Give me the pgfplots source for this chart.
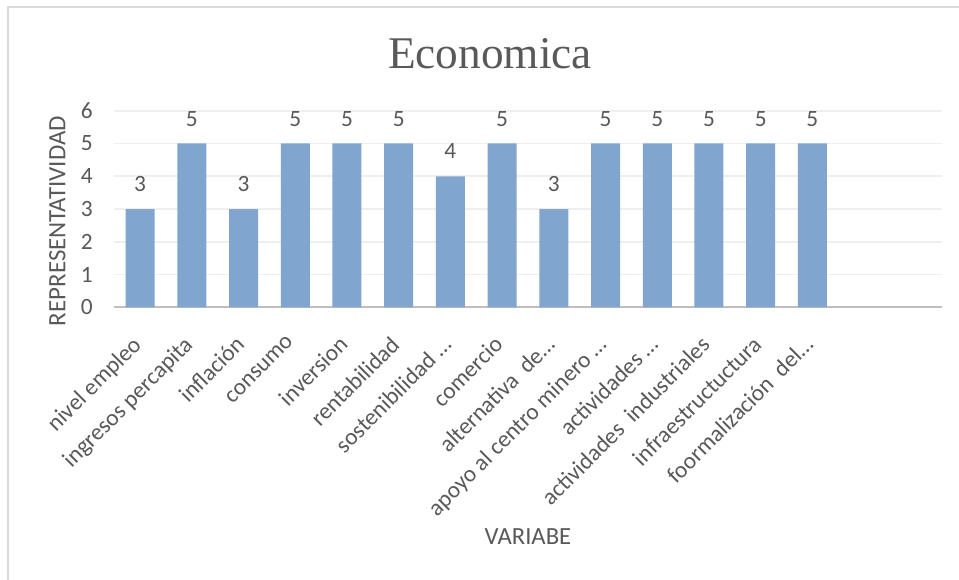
\documentclass[border=0pt]{standalone}
\usepackage{fontspec}
\setmainfont{Carlito}
\newfontfamily\titlefont{Liberation Serif}
\usepackage{pgfplots}
\pgfplotsset{compat=1.18}
\definecolor{txt}{HTML}{595959}
\definecolor{barc}{RGB}{128,166,208}
\definecolor{gridc}{HTML}{EFEFEF}
\definecolor{axc}{HTML}{BFBFBF}
\definecolor{framec}{HTML}{D9D9D9}
\begin{document}
\begin{tikzpicture}
\fill[white] (0,0) rectangle (719.25pt,435pt);
\useasboundingbox (0,0) rectangle (719.25pt,435pt);
\draw[framec,line width=1.2pt] (6pt,0pt) -- (6pt,429.75pt) -- (719.25pt,429.75pt);
\begin{axis}[
  at={(85.7pt,204.5pt)}, anchor=south west,
  scale only axis, width=620.55pt, height=147.45pt,
  ybar, bar width=21.75pt,
  xmin=-0.5, xmax=15.5, ymin=0, ymax=6,
  ytick={0,1,2,3,4,5,6},
  xtick={0,...,13},
  xticklabels={nivel empleo, ingresos percapita, inflación, consumo, inversion, rentabilidad, sostenibilidad …, comercio, alternativa\ \ de…, apoyo al centro minero …, actividades …, actividades\ \ industriales, infraestructuctura, foormalización\ \ del…},
  axis x line=bottom, axis y line=left,
  x axis line style={draw=axc, line width=1.5pt, -},
  y axis line style={draw=none},
  major tick length=0pt,
  ymajorgrids, grid style={draw=gridc, line width=1.2pt},
  /pgf/number format/assume math mode=true,
  tick label style={text=txt},
  yticklabel style={font=\fontsize{17.5}{20}\selectfont, inner sep=0pt, xshift=-16pt, anchor=east},
  xticklabel style={font=\fontsize{17.5}{20}\selectfont, rotate=45, anchor=north east, inner sep=0pt, xshift=-19.4pt, yshift=-9.5pt},
  ylabel={REPRESENTATIVIDAD},
  ylabel style={at={(axis description cs:-0.0687,0.439)}, rotate=0, anchor=center, font=\fontsize{18.7}{20}\selectfont, text=txt},
  xlabel={VARIABE},
  xlabel style={at={(axis description cs:0.5,-1.168)}, anchor=center, font=\fontsize{18.5}{20}\selectfont, text=txt},
  nodes near coords,
  every node near coord/.append style={font=\fontsize{17.5}{20}\selectfont, text=txt, anchor=base, yshift=13pt},
]
\addplot[fill=barc, draw=none] coordinates {
(0,3) (1,5) (2,3) (3,5) (4,5) (5,5) (6,4) (7,5) (8,3) (9,5) (10,5) (11,5) (12,5) (13,5)
};
\end{axis}
\node[anchor=base, text=txt, font=\titlefont\fontsize{34}{40}\selectfont] at (367.5pt,383.25pt) {Economica};
\end{tikzpicture}
\end{document}
